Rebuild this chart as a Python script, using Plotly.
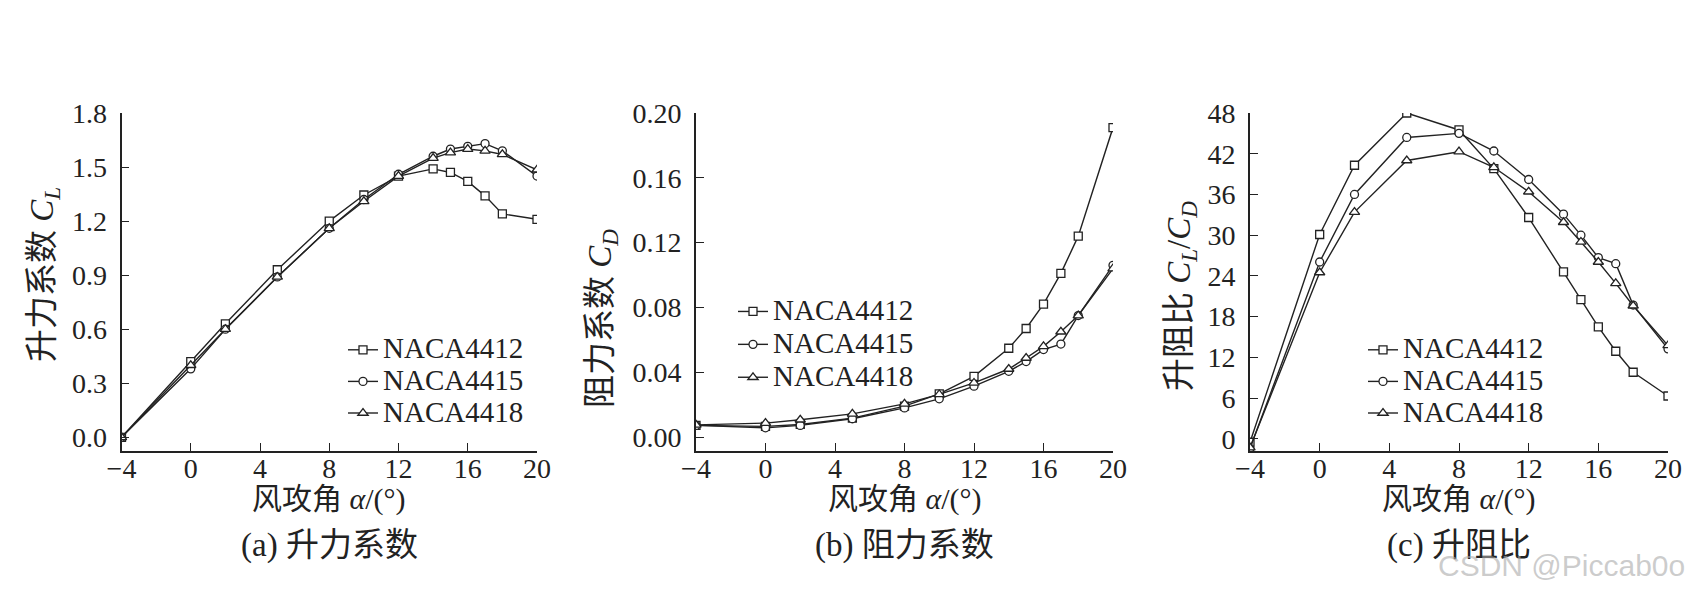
import plotly.graph_objects as go

W, H = 1700, 589

# angle of attack (deg)
alpha = [-4, 0, 2, 5, 8, 10, 12, 14, 15, 16, 17, 18, 20]
names = ["NACA4412", "NACA4415", "NACA4418"]

# (a) lift coefficient C_L
cl_4412 = [0.0, 0.42, 0.63, 0.93, 1.20, 1.345, 1.45, 1.49, 1.47, 1.42, 1.34, 1.24, 1.21]
cl_4415 = [0.0, 0.38, 0.60, 0.89, 1.16, 1.32, 1.46, 1.56, 1.60, 1.615, 1.63, 1.59, 1.45]
cl_4418 = [0.0, 0.40, 0.60, 0.89, 1.16, 1.31, 1.45, 1.55, 1.58, 1.60, 1.59, 1.57, 1.485]

# (b) drag coefficient C_D
cd_4412 = [0.0072, 0.0066, 0.0078, 0.0117, 0.0191, 0.0267, 0.0375, 0.0548, 0.067, 0.082, 0.101, 0.124, 0.191]
cd_4415 = [0.0072, 0.0057, 0.0072, 0.0113, 0.0180, 0.0236, 0.0314, 0.0406, 0.0466, 0.054, 0.0574, 0.075, 0.106]
cd_4418 = [0.0075, 0.0086, 0.0107, 0.0143, 0.0205, 0.0263, 0.0334, 0.0420, 0.0488, 0.056, 0.065, 0.075, 0.104]

# (c) lift-drag ratio C_L/C_D
ld_4412 = [-0.5, 30.1, 40.3, 48.0, 45.5, 39.8, 32.6, 24.6, 20.5, 16.5, 12.9, 9.8, 6.3]
ld_4415 = [-1.4, 26.05, 36.0, 44.4, 45.0, 42.4, 38.2, 33.1, 30.0, 26.7, 25.8, 19.7, 13.25]
ld_4418 = [-1.3, 24.5, 33.4, 41.0, 42.3, 40.0, 36.4, 31.9, 29.0, 26.05, 22.9, 19.6, 13.75]

x_ticks = [-4, 0, 4, 8, 12, 16, 20]
cl_ticks = [0.0, 0.3, 0.6, 0.9, 1.2, 1.5, 1.8]
cd_ticks = [0.00, 0.04, 0.08, 0.12, 0.16, 0.20]
ld_ticks = [0, 6, 12, 18, 24, 30, 36, 42, 48]

SERIF = "Liberation Serif, Times New Roman, Noto Sans CJK SC, serif"
INK = "#222222"
symbols = ["square", "circle", "triangle-up"]
msizes = [8, 8, 9]


def px(x):
    return x / W


def py(y):
    return 1 - y / H


panels = [
    dict(series=[cl_4412, cl_4415, cl_4418], x0=113.5, x1=529, yr=[-0.076, 1.8],
         yt=cl_ticks, ytxt=[f"{v:.1f}" for v in cl_ticks],
         ytitle="升力系数 <i>C<sub>L</sub></i>", ytx=37, yty=267,
         cap="(a) 升力系数", leg=(335, 321), legfs=22),
    dict(series=[cd_4412, cd_4415, cd_4418], x0=688, x1=1105, yr=[-0.0086, 0.2],
         yt=cd_ticks, ytxt=[f"{v:.2f}" for v in cd_ticks],
         ytitle="阻力系数 <i>C<sub>D</sub></i>", ytx=594, yty=311,
         cap="(b) 阻力系数", leg=(725, 282), legfs=23),
    dict(series=[ld_4412, ld_4415, ld_4418], x0=1242, x1=1660, yr=[-1.8, 48],
         yt=ld_ticks, ytxt=[str(v) for v in ld_ticks],
         ytitle="升阻比 <i>C<sub>L</sub></i>/<i>C<sub>D</sub></i>", ytx=1174, yty=288,
         cap="(c) 升阻比", leg=(1355, 321), legfs=22),
]

fig = go.Figure()
annotations = []
layout = {}
top, bottom = 105, 443

for i, p in enumerate(panels):
    n = "" if i == 0 else str(i + 1)
    for j, ys in enumerate(p["series"]):
        fig.add_trace(go.Scatter(
            x=alpha, y=ys, mode="lines+markers",
            # glyph size set here, legend font size only drives row spacing
            name=f'<span style="font-size:29px">{names[j]}</span>',
            xaxis="x" + n, yaxis="y" + n, legend="legend" + n,
            line=dict(color=INK, width=1.4),
            marker=dict(symbol=symbols[j], size=msizes[j], color="white",
                        line=dict(color=INK, width=1.3)),
        ))

    common = dict(showline=True, linecolor=INK, linewidth=1.6, ticks="inside",
                  ticklen=8, tickwidth=1.4, tickcolor=INK, showgrid=False,
                  zeroline=False, automargin=False,
                  tickfont=dict(family=SERIF, size=28, color=INK))
    layout["xaxis" + n] = dict(common, domain=[px(p["x0"]), px(p["x1"])],
                               range=[-4, 20], tickvals=x_ticks, anchor="y" + n,
                               ticklabelstandoff=-8)
    layout["yaxis" + n] = dict(common, domain=[py(bottom), py(top)], range=p["yr"],
                               tickvals=p["yt"], ticktext=p["ytxt"], anchor="x" + n,
                               ticklabelstandoff=7)
    layout["legend" + n] = dict(x=px(p["leg"][0]), y=py(p["leg"][1]), xanchor="left",
                                yanchor="top", bgcolor="rgba(0,0,0,0)",
                                font=dict(family=SERIF, size=p["legfs"], color=INK),
                                tracegroupgap=0, itemwidth=30)

    xc = (p["x0"] + p["x1"]) / 2
    annotations.append(dict(x=px(xc), y=py(491), text="风攻角 <i>α</i>/(°)",
                            font=dict(family=SERIF, size=30, color=INK)))
    annotations.append(dict(x=px(xc), y=py(537), text=p["cap"],
                            font=dict(family=SERIF, size=33, color=INK)))
    annotations.append(dict(x=px(p["ytx"]), y=py(p["yty"]), text=p["ytitle"],
                            textangle=-90, font=dict(family=SERIF, size=33, color=INK)))

for a in annotations:
    a.update(xref="paper", yref="paper", showarrow=False, xanchor="center", yanchor="middle")

# watermark
annotations.append(dict(x=px(1428), y=py(557), xref="paper", yref="paper", showarrow=False,
                        xanchor="left", yanchor="middle", text="CSDN @Piccab0o",
                        font=dict(family="Liberation Sans, Arial, sans-serif", size=30,
                                  color="rgba(170,170,170,0.6)")))

fig.update_layout(
    width=W, height=H,
    margin=dict(l=0, r=0, t=0, b=0, pad=0, autoexpand=False),
    paper_bgcolor="white", plot_bgcolor="white",
    annotations=annotations,
    **layout,
)

fig.write_html("out.html")
